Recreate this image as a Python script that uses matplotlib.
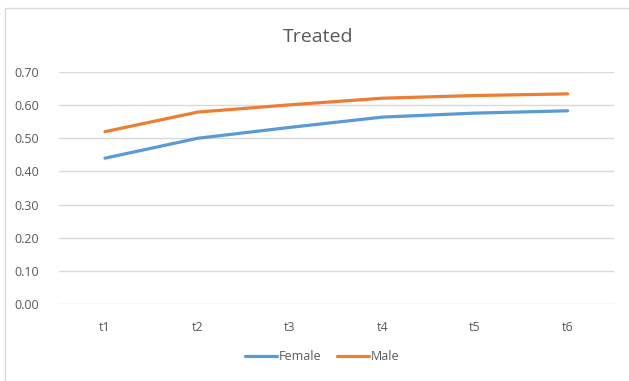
import matplotlib.pyplot as plt
from matplotlib.patches import Rectangle

# values per time point
periods = ['t1', 't2', 't3', 't4', 't5', 't6']
female = [0.44, 0.50, 0.533, 0.564, 0.576, 0.583]
male = [0.52, 0.579, 0.601, 0.621, 0.629, 0.634]
yticks = [0.0, 0.1, 0.2, 0.3, 0.4, 0.5, 0.6, 0.7]

plt.rcParams['font.family'] = ['Open Sans', 'DejaVu Sans']
TEXT = '#595959'
GRID = '#D9D9D9'

fig = plt.figure(figsize=(6.29, 3.81), dpi=100)
ax = fig.add_axes([0.0933, 0.202, 0.8827, 0.609])

x = range(len(periods))
ax.plot(x, female, color='#5B9BD5', lw=2.3, solid_capstyle='round', label='Female')
ax.plot(x, male, color='#ED7D31', lw=2.3, solid_capstyle='round', label='Male')

ax.set_xlim(-0.5, len(periods) - 0.5)
ax.set_ylim(0, 0.7)
ax.set_yticks(yticks)
ax.set_yticklabels([f'{v:.2f}' for v in yticks])
ax.set_xticks(list(x))
ax.set_xticklabels(periods)
ax.tick_params(length=0, colors=TEXT, labelsize=9)
ax.tick_params(axis='x', pad=12)
ax.tick_params(axis='y', pad=14)
ax.grid(axis='y', color=GRID, lw=1)
ax.set_axisbelow(True)
for s in ax.spines.values():
    s.set_visible(False)

fig.text(0.506, 0.903, 'Treated', ha='center', va='center', fontsize=14, color=TEXT)

leg = fig.legend(loc='center', bbox_to_anchor=(0.512, 0.063), ncol=2, frameon=False,
                 fontsize=9, handlelength=2.6, handletextpad=0.15, columnspacing=1.2)
for t in leg.get_texts():
    t.set_color(TEXT)

# outer chart border
fig.patches.append(Rectangle((5 / 629, -0.1), 1.2, 1 - 8 / 381 + 0.1, transform=fig.transFigure,
                             fill=False, edgecolor='#D9D9D9', lw=1))

fig.savefig('out.png', dpi=100)
